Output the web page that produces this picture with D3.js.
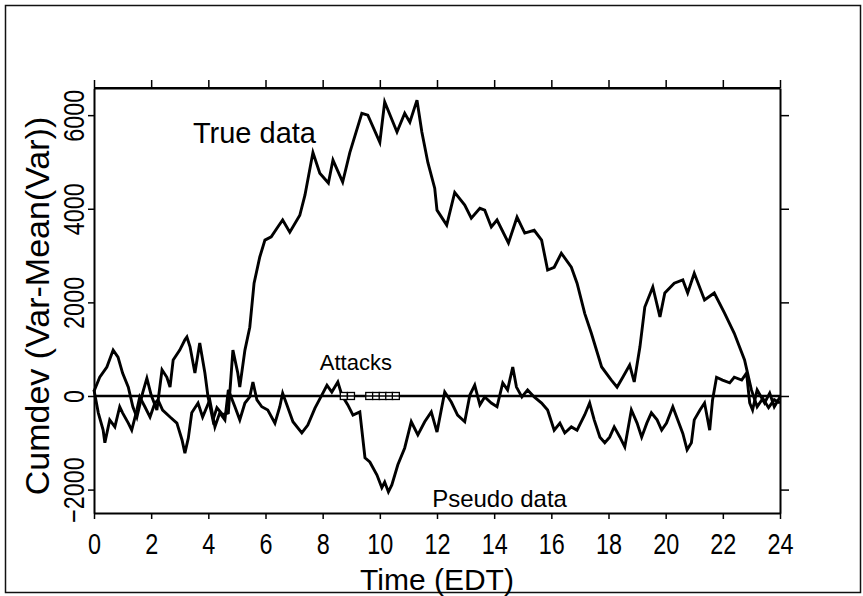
<!DOCTYPE html>
<head>
  <meta charset="utf-8">
  <script src="https://d3js.org/d3.v7.min.js"></script>
  <style>
    body { margin: 0; background: #fff; }
    text { font-family: "Liberation Sans", Arial, sans-serif; fill: #000; }
  </style>
</head>
<body>
  <div id="chart"></div>
  <script>
    // hours / cumdev values
    var trueHours = [0, 0.2, 0.45, 0.67, 0.84, 1.0, 1.2, 1.36, 1.5, 1.7, 1.85, 2.0, 2.2, 2.38, 2.55, 2.66, 2.77, 3.0, 3.18, 3.25,
      3.36, 3.53, 3.7, 3.88, 3.99, 4.16, 4.3, 4.5, 4.7, 4.86, 5.03, 5.1, 5.28, 5.45, 5.6, 5.8, 5.98, 6.2, 6.43, 6.6,
      6.85, 7.2, 7.38, 7.66, 7.9, 8.2, 8.36, 8.7, 8.95, 9.37, 9.58, 10.0, 10.17, 10.6, 10.87, 11.05, 11.3, 11.47, 11.68, 11.92,
      12.0, 12.34, 12.62, 12.97, 13.2, 13.5, 13.67, 13.9, 14.1, 14.5, 14.8, 15.07, 15.4, 15.66, 15.87, 16.1, 16.35, 16.7, 16.9, 17.17,
      17.4, 17.76, 18.1, 18.3, 18.5, 18.74, 18.9, 19.1, 19.27, 19.55, 19.8, 19.97, 20.3, 20.6, 20.77, 21.0, 21.36, 21.7, 22.06, 22.4,
      22.76, 23.0, 23.2, 23.4, 23.6, 23.8, 24.0];
    var trueValues = [100, 400, 620, 980, 830, 490, 190, -230, -450, 60, 380, 20, -300, 560, 400, 190, 770, 980, 1200, 1260,
      1050, 490, 1130, 490, -20, -510, -250, -400, -360, 980, 490, 190, 980, 1470, 2410, 2970, 3330, 3400, 3610, 3760,
      3500, 3860, 4290, 5200, 4760, 4550, 5040, 4570, 5200, 6040, 6000, 5420, 6280, 5640, 6040, 5850, 6320, 5640, 4990, 4440,
      3970, 3650, 4350, 4080, 3800, 4010, 3970, 3610, 3760, 3270, 3820, 3480, 3540, 3330, 2690, 2750, 3050, 2750, 2410, 1760,
      1340, 620, 340, 190, 400, 660, 300, 1050, 1900, 2330, 1690, 2200, 2410, 2480, 2200, 2620, 2050, 2200, 1770, 1340,
      770, 130, -230, -50, -250, -80, -150];

    var pseudoHours = [0, 0.15, 0.32, 0.38, 0.55, 0.73, 0.9, 1.0, 1.2, 1.32, 1.5, 1.6, 1.78, 1.96, 2.13, 2.24, 2.4, 2.66, 2.9, 3.08,
      3.18, 3.3, 3.42, 3.64, 3.8, 4.05, 4.23, 4.4, 4.58, 4.7, 4.93, 5.1, 5.28, 5.45, 5.56, 5.7, 5.87, 6.08, 6.33, 6.5,
      6.6, 6.75, 6.96, 7.27, 7.48, 7.73, 7.97, 8.15, 8.32, 8.53, 8.67, 8.88, 9.06, 9.3, 9.48, 9.65, 9.9, 10.07, 10.17, 10.3,
      10.42, 10.63, 10.87, 11.1, 11.33, 11.57, 11.8, 12.0, 12.27, 12.5, 12.72, 12.97, 13.15, 13.32, 13.5, 13.67, 13.9, 14.1, 14.3, 14.47,
      14.65, 14.78, 14.97, 15.17, 15.4, 15.66, 15.87, 16.1, 16.3, 16.47, 16.7, 16.9, 17.17, 17.34, 17.5, 17.7, 17.87, 18.04, 18.2, 18.4,
      18.57, 18.8, 19.0, 19.16, 19.34, 19.5, 19.7, 19.86, 20.03, 20.25, 20.42, 20.6, 20.75, 20.9, 21.0, 21.2, 21.36, 21.54, 21.64, 21.78,
      21.99, 22.24, 22.4, 22.66, 22.83, 22.94, 23.04, 23.2, 23.46, 23.64, 23.8, 24.0];
    var pseudoValues = [130, -360, -730, -1000, -510, -660, -230, -360, -580, -730, -300, -20, -230, -450, -150, -85, -300, -450, -580, -940,
      -1220, -900, -360, -150, -450, -85, -660, -360, -510, 130, -230, -510, -150, -20, 300, -85, -230, -300, -580, -230,
      60, -190, -550, -790, -620, -260, 20, 230, 85, 300, 20, -190, -410, -340, -1320, -1410, -1690, -1960, -1840, -2050,
      -1900, -1470, -1110, -550, -830, -550, -340, -770, 85, -130, -410, -550, 20, 230, -190, -20, -150, -230, 280, 130,
      620, 190, -20, 130, -20, -150, -300, -730, -580, -790, -660, -730, -400, -150, -510, -880, -1000, -880, -660, -880,
      -1090, -300, -580, -880, -580, -360, -510, -730, -580, -230, -510, -800, -1150, -1000, -510, -300, -150, -730, -85, 400,
      340, 280, 400, 340, 490, -150, -300, 130, -150, 60, -230, -20];

    var attackHours = [8.74, 8.99, 9.63, 9.87, 10.1, 10.33, 10.56];

    var xTicks = [0, 2, 4, 6, 8, 10, 12, 14, 16, 18, 20, 22, 24];
    var yTicks = [-2000, 0, 2000, 4000, 6000];

    var width = 863, height = 596;
    var plot = {left: 94, right: 780, top: 88, bottom: 513};

    var svg = d3.select("#chart").append("svg")
      .attr("width", width)
      .attr("height", height);

    // outer frame of the figure
    svg.append("rect")
      .attr("x", 5.5).attr("y", 5.5)
      .attr("width", 855).attr("height", 587)
      .attr("fill", "none")
      .attr("stroke", "#111")
      .attr("stroke-width", 1.5);

    var x = d3.scaleLinear().domain([0, 24]).range([plot.left, plot.right]);
    var y = d3.scaleLinear().domain([-2500, 6580]).range([plot.bottom, plot.top]);

    // axes (ticks point outward like the original)
    var gx = svg.append("g")
      .attr("transform", "translate(0," + plot.bottom + ")")
      .call(d3.axisBottom(x).tickValues(xTicks).tickSize(6).tickSizeOuter(0).tickPadding(14));
    gx.selectAll("text")
      .attr("font-size", 30)
      .attr("transform", "scale(0.78,1)")
      .attr("dy", "0.71em");

    svg.append("g")
      .attr("transform", "translate(0," + plot.top + ")")
      .call(d3.axisTop(x).tickValues(xTicks).tickSize(8).tickSizeOuter(0).tickFormat(""));

    var gy = svg.append("g")
      .attr("transform", "translate(" + plot.left + ",0)")
      .call(d3.axisLeft(y).tickValues(yTicks).tickSize(6).tickSizeOuter(0).tickFormat(d3.format("d")));
    gy.selectAll("text")
      .attr("font-size", 30)
      .attr("text-anchor", "middle")
      .attr("x", 0)
      .attr("y", -10)
      .attr("dy", 0)
      .attr("transform", "rotate(-90) scale(0.78,1)");

    svg.append("g")
      .attr("transform", "translate(" + plot.right + ",0)")
      .call(d3.axisRight(y).tickValues(yTicks).tickSize(9).tickSizeOuter(0).tickFormat(""));

    svg.selectAll(".domain").attr("stroke", "#000").attr("stroke-width", 2);
    svg.selectAll(".tick line").attr("stroke", "#000").attr("stroke-width", 1.5);

    // closing lines of the box
    svg.append("line")
      .attr("x1", plot.left).attr("x2", plot.right)
      .attr("y1", plot.top).attr("y2", plot.top)
      .attr("stroke", "#000").attr("stroke-width", 2);

    // zero reference line
    svg.append("line")
      .attr("x1", x(0)).attr("x2", x(24))
      .attr("y1", y(0)).attr("y2", y(0))
      .attr("stroke", "#000").attr("stroke-width", 2.5);

    var line = d3.line()
      .x(function(d) { return x(d[0]) })
      .y(function(d) { return y(d[1]) });

    var series = [
      d3.zip(trueHours, trueValues),
      d3.zip(pseudoHours, pseudoValues)
    ];

    svg.selectAll(".series")
      .data(series)
      .enter().append("path")
      .attr("class", "series")
      .attr("d", line)
      .attr("fill", "none")
      .attr("stroke", "#000")
      .attr("stroke-width", 2.9)
      .attr("stroke-linejoin", "miter");

    // attack markers on the zero line
    svg.selectAll(".attack")
      .data(attackHours)
      .enter().append("rect")
      .attr("class", "attack")
      .attr("x", function(d) { return x(d) - 3.5 })
      .attr("y", y(0) - 3.5)
      .attr("width", 7)
      .attr("height", 7)
      .attr("fill", "#fff")
      .attr("stroke", "#000")
      .attr("stroke-width", 1.3);
    svg.append("line")
      .attr("x1", x(8.5)).attr("x2", x(10.8))
      .attr("y1", y(0)).attr("y2", y(0))
      .attr("stroke", "#000").attr("stroke-width", 1.3);

    // annotations
    svg.append("text")
      .attr("x", x(3.46)).attr("y", y(5400))
      .attr("font-size", 29)
      .text("True data");
    svg.append("text")
      .attr("x", x(7.9)).attr("y", y(550))
      .attr("font-size", 22)
      .text("Attacks");
    svg.append("text")
      .attr("x", x(11.83)).attr("y", y(-2370))
      .attr("font-size", 24)
      .text("Pseudo data");

    // axis titles
    svg.append("text")
      .attr("x", (plot.left + plot.right) / 2)
      .attr("y", 590)
      .attr("text-anchor", "middle")
      .attr("font-size", 30)
      .text("Time (EDT)");

    svg.append("text")
      .attr("transform", "translate(49,306) rotate(-90)")
      .attr("text-anchor", "middle")
      .attr("font-size", 34)
      .text("Cumdev (Var-Mean(Var))");
  </script>
</body>
